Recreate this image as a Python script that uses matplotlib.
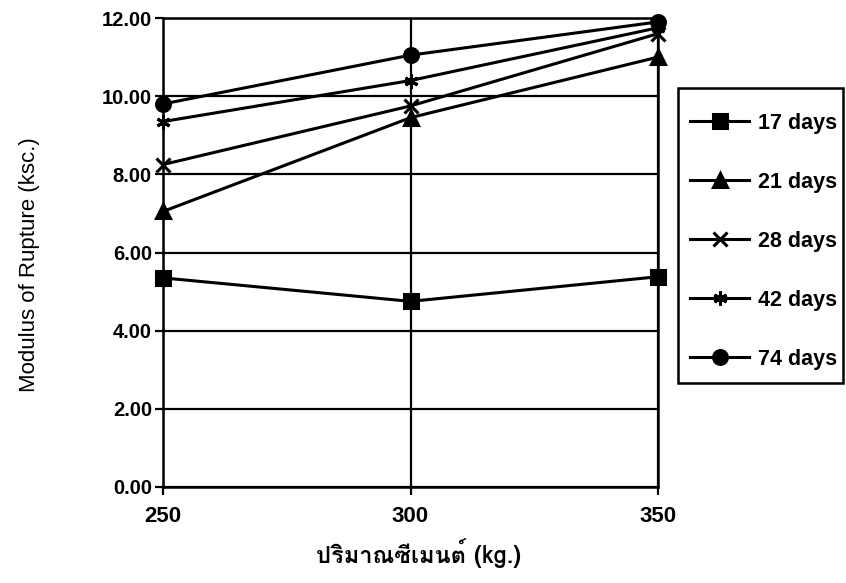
import matplotlib
matplotlib.use('Agg')
from matplotlib import pyplot as plt
from matplotlib import font_manager
from matplotlib.ft2font import FT2Font
from matplotlib.patches import Rectangle

cement = [250, 300, 350]
labels = ['17 days', '21 days', '28 days', '42 days', '74 days']
days17 = [5.35, 4.75, 5.38]
days21 = [7.05, 9.45, 11.00]
days28 = [8.25, 9.75, 11.60]
days42 = [9.35, 10.40, 11.75]
days74 = [9.80, 11.05, 11.90]
yticks = [0, 2, 4, 6, 8, 10, 12]
xlabel = 'ปริมาณซีเมนต์ (kg.)'
ylabel = 'Modulus of Rupture (ksc.)'

# find some installed font that has thai glyphs
thaiFamily = None
for f in font_manager.fontManager.ttflist:
    try:
        if 0x0E1B in FT2Font(f.fname).get_charmap():
            thaiFamily = f.name
            break
    except Exception:
        pass

plt.rcParams['font.family'] = ['Liberation Sans', 'DejaVu Sans']

W, H = 846, 583
fig = plt.figure(figsize=(8.46, 5.83), dpi=100)
ax = fig.add_axes([163/W, 1-487/H, (658-163)/W, (487-18)/H])

series = [days17, days21, days28, days42, days74]
markers = ['s', '^', 'x', (6, 2, 0), 'o']
for data, lab, m in zip(series, labels, markers):
    ax.plot(cement, data, color='black', lw=2.2, marker=m, markersize=10,
            mew=2.2, mfc='black', mec='black', label=lab, clip_on=False, zorder=3)

ax.set_xlim(250, 350)
ax.set_ylim(0, 12)
ax.set_xticks(cement)
ax.set_yticks(yticks)
ax.set_yticklabels(['%.2f' % v for v in yticks])
ax.grid(True, color='black', lw=1.6)
for s in ax.spines.values():
    s.set_linewidth(1.8)
ax.tick_params(direction='out', length=6, width=1.6)
ax.tick_params(axis='y', labelsize=14.5, pad=2)
ax.tick_params(axis='x', labelsize=16, pad=8)
for t in ax.get_xticklabels() + ax.get_yticklabels():
    t.set_fontweight('bold')

ax.set_ylabel(ylabel, fontsize=16)
ax.yaxis.set_label_coords((40-163)/495, (487-265)/469)
fam = [thaiFamily, 'DejaVu Sans'] if thaiFamily else ['DejaVu Sans']
ax.set_xlabel(xlabel, fontsize=17, fontweight='bold', family=fam)
ax.xaxis.set_label_coords((418-163)/495, (487-538)/469)

# legend box drawn by hand, entries without frame
fig.patches.append(Rectangle((678/W, 1-383/H), (843-678)/W, (383-88)/H,
                             transform=fig.transFigure, fill=False,
                             edgecolor='black', lw=1.8))
leg = fig.legend(loc='upper left', bbox_to_anchor=(690/W, 1-113/H),
                 fontsize=15.5, labelspacing=1.76, handlelength=2.75,
                 handletextpad=0.4, borderpad=0, borderaxespad=0,
                 frameon=False)
for t in leg.get_texts():
    t.set_fontweight('bold')

fig.savefig('out.png', dpi=100)
